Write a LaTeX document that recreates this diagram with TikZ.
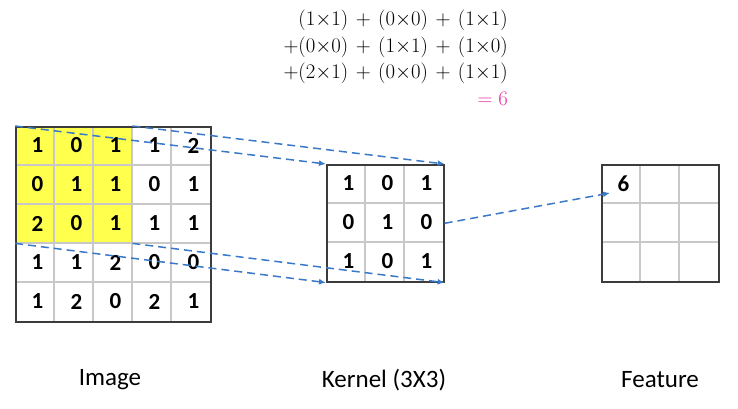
\documentclass[tikz,border=0pt]{standalone}
\usepackage{fontspec}
\newfontfamily\lab{Carlito}
\usetikzlibrary{arrows.meta}
\definecolor{gridline}{RGB}{200,200,200}
\definecolor{frame}{RGB}{60,60,60}
\definecolor{hl}{RGB}{255,255,77}
\definecolor{arr}{RGB}{58,120,200}
\definecolor{pink}{RGB}{232,50,160}
\newcommand{\tm}{\mathord{\times}}
\newcommand{\eqline}[1]{$\medmuskip=6.5mu\relax #1$}
\tikzset{
  cellnum/.style={font=\lab\fontsize{23}{23}\selectfont\bfseries, inner sep=0pt, xshift=3pt},
  frm/.style={draw=frame, line width=1.6pt, minimum width=#1, minimum height=#1, inner sep=0pt},
  inner/.style={draw=gridline, line width=1.2pt},
  dasharrow/.style={draw=arr, line width=1.5pt, dash pattern=on 8pt off 5pt, -{Latex[length=7pt,width=6pt]}},
  caption/.style={font=\lab\fontsize{25}{25}\selectfont, inner sep=0pt},
  eq/.style={font=\fontsize{20.5}{20.5}\selectfont, anchor=east, inner sep=0pt}
}
\begin{document}
\begin{tikzpicture}[x=1pt,y=-1pt]
\useasboundingbox (0,0) rectangle (738,408);
% image grid
\fill[hl] (15,126) rectangle (132,243);
\node[inner sep=0pt, minimum width=117pt, minimum height=117pt, anchor=north west] (win) at (15,126) {};
\foreach \i in {1,...,4} {
  \draw[inner] (15+39*\i,126) -- (15+39*\i,321);
  \draw[inner] (15,126+39*\i) -- (210,126+39*\i);
}
\node[frm=195pt, anchor=north west] (img) at (15,126) {};
\foreach \r [count=\y from 0] in {{1,0,1,1,2},{0,1,1,0,1},{2,0,1,1,1},{1,1,2,0,0},{1,2,0,2,1}} {
  \foreach \v [count=\x from 0] in \r {
    \node[cellnum] (i\y\x) at (34.5+39*\x,145.5+39*\y) {\v};
  }
}
% kernel grid
\foreach \i in {1,2} {
  \draw[inner] (326+39*\i,164) -- (326+39*\i,281);
  \draw[inner] (326,164+39*\i) -- (443,164+39*\i);
}
\node[frm=117pt, anchor=north west] (ker) at (326,164) {};
\foreach \r [count=\y from 0] in {{1,0,1},{0,1,0},{1,0,1}} {
  \foreach \v [count=\x from 0] in \r {
    \node[cellnum] (k\y\x) at (345.5+39*\x,183.5+39*\y) {\v};
  }
}
% feature grid
\foreach \i in {1,2} {
  \draw[inner] (601+39*\i,164) -- (601+39*\i,281);
  \draw[inner] (601,164+39*\i) -- (718,164+39*\i);
}
\node[frm=117pt, anchor=north west] (feat) at (601,164) {};
\node[cellnum] (f00) at (620.5,183.5) {6};
\coordinate (ftip) at (610,193);
% dashed arrows
\draw[dasharrow] (win.north west) -- (ker.north west);
\draw[dasharrow] (win.north east) -- (ker.north east);
\draw[dasharrow] (win.south west) -- (ker.south west);
\draw[dasharrow] (win.south east) -- (ker.south east);
\draw[dasharrow] (ker.east) -- (ftip);
% equation
\node[eq] (e1) at (508,20) {\eqline{(1\tm1)+(0\tm0)+(1\tm1)}};
\node[eq] (e2) at (508,47) {\eqline{+(0\tm0)+(1\tm1)+(1\tm0)}};
\node[eq] (e3) at (508,73) {\eqline{+(2\tm1)+(0\tm0)+(1\tm1)}};
\node[eq, text=pink] (e4) at (508,99) {$=6$};
% captions
\node[caption] (cimg) at (110,380) {Image};
\node[caption] (cker) at (384,380) {Kernel (3X3)};
\node[caption] (cfeat) at (660,380) {Feature};
\end{tikzpicture}
\end{document}
